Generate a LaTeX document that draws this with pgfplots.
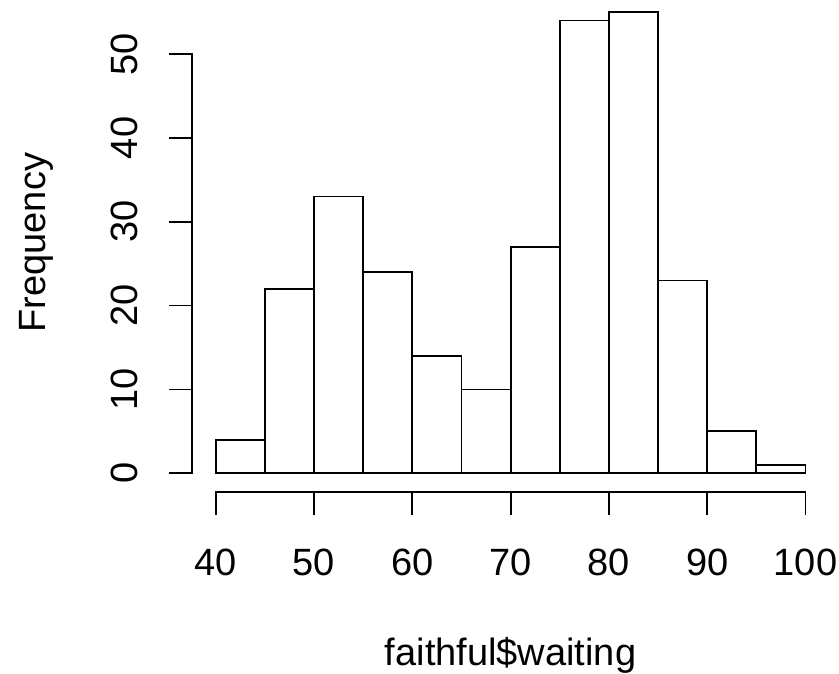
\documentclass[border=0pt]{standalone}
\usepackage{fontspec}
\setmainfont{Liberation Sans}
\usepackage{pgfplots}
\pgfplotsset{compat=1.18}
\begin{document}
\begin{tikzpicture}[x=1pt,y=1pt]
\begin{axis}[
  at={(192.1pt,181.25pt)}, anchor=south west,
  scale only axis, width=637pt, height=498.1pt,
  xmin=37.6, xmax=102.4, ymin=-2.2, ymax=57.2,
  clip=false,
  axis line style={draw=none},
  xtick={40,50,...,100}, ytick={0,10,...,50},
  xtick pos=bottom, ytick pos=left,
  tick align=outside, major tick length=23pt,
  tick style={black, line width=1.8pt},
  /pgf/number format/assume math mode=true,
  tick label style={font=\fontsize{38}{45}\selectfont, inner sep=0pt},
  xticklabel style={anchor=base},
  xticklabel shift=60.25pt,
  yticklabel style={rotate=90, anchor=base},
  yticklabel shift=32.1pt,
  label style={font=\fontsize{38}{45}\selectfont, inner sep=0pt},
  xlabel={faithful\$waiting},
  ylabel={Frequency},
  xlabel style={at={(axis description cs:0.5,-0.3498)}, anchor=base},
  ylabel style={at={(axis description cs:-0.2309,0.5)}, anchor=base},
]
\addplot[ybar interval, fill=white, draw=black, line width=1.8pt] coordinates {
(40,4) (45,22) (50,33) (55,24) (60,14) (65,10) (70,27) (75,54) (80,55) (85,23) (90,5) (95,1) (100,1)};
\draw[line width=1.8pt, line cap=rect] (axis cs:40,-2.2) -- (axis cs:100,-2.2);
\draw[line width=1.8pt, line cap=rect] (axis cs:37.6,0) -- (axis cs:37.6,50);
\end{axis}
\pgfresetboundingbox
\useasboundingbox (0,0) rectangle (839,673);
\end{tikzpicture}
\end{document}
